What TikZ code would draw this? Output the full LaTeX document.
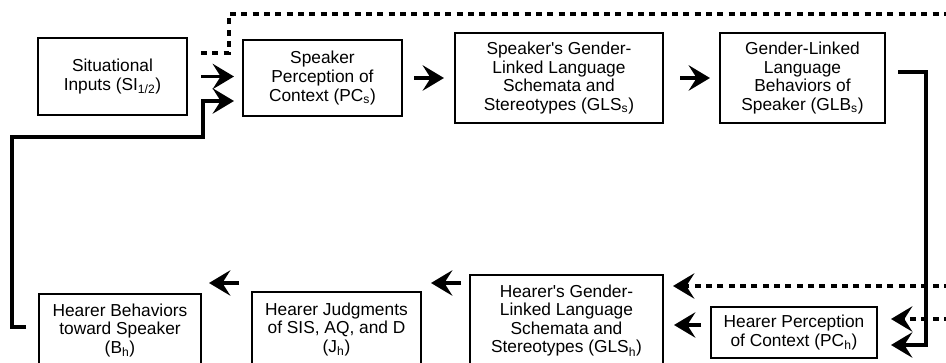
\documentclass[tikz,border=0pt]{standalone}
\usepackage{fontspec}
\setmainfont{Liberation Sans}[Ligatures=TeXOff]
\usetikzlibrary{arrows.meta,calc}
\newcommand{\sbs}[1]{\textsubscript{#1}}
\begin{document}
\begin{tikzpicture}[x=0.75pt,y=-0.75pt,
  box/.style={draw,line width=1.5pt,align=center,inner sep=0pt,
    font=\fontsize{13}{13.9}\selectfont},
  sz/.style 2 args={minimum width=#1*0.75pt,minimum height=#2*0.75pt},
  arr/.style={line width=2.6pt,-{Stealth[length=16pt,width=19pt,inset=6pt]}},
  dot/.style={line width=2.6pt,dash pattern=on 4.5pt off 4pt}]
\useasboundingbox (0,0) rectangle (946,363);
% top row
\node[box,sz={149}{77}] (si) at (112.5,76.5) {Situational\\Inputs (SI\sbs{1/2})};
\node[box,sz={159}{76}] (pcs) at (322.5,78) {Speaker\\Perception of\\Context (PC\sbs{s})};
\node[box,sz={208}{90}] (glss) at (559,78) {Speaker's Gender-\\Linked Language\\Schemata and\\Stereotypes (GLS\sbs{s})};
\node[box,sz={165}{90}] (glbs) at (802.5,78) {Gender-Linked\\Language\\Behaviors of\\Speaker (GLB\sbs{s})};
% bottom row
\node[box,sz={166}{51}] (pch) at (794,332.5) {Hearer Perception\\of Context (PC\sbs{h})};
\node[box,sz={193}{91}] (glsh) at (566.5,320.5) {Hearer's Gender-\\Linked Language\\Schemata and\\Stereotypes (GLS\sbs{h})};
\node[box,sz={169}{75}] (jh) at (336.5,329.5) {Hearer Judgments\\of SIS, AQ, and D\\(J\sbs{h})};
\node[box,sz={162}{73}] (bh) at (120,330.5) {Hearer Behaviors\\toward Speaker\\(B\sbs{h})};
% free ends at the right margin
\coordinate (tr) at (950,14);
\coordinate (br1) at (950,286);
\coordinate (br2) at (950,319);
% top arrows
\draw[arr] ($(si.east)+(13,0)$) -- ($(si.east -| pcs.west)+(-8,0)$);
\draw[arr] ($(pcs.east)+(11,0)$) -- ($(pcs.east -| glss.west)+(-10,0)$);
\draw[arr] ($(glss.east)+(16,0)$) -- ($(glss.east -| glbs.west)+(-9,0)$);
% dotted top line
\draw[dot] ($(si.east)+(13,-23.5)$) -- ++(28,0) |- (tr);
% right connector down to hearer perception
\draw[arr] ($(glbs.east)+(12,-6)$) -| ($(pch.east)+(48,12.5)$) -- ($(pch.east)+(13,12.5)$);
% dotted bottom arrows
\draw[dot,arr] (br1) -- ($(glsh.east |- br1)+(9,0)$);
\draw[dot,arr] (br2) -- ($(pch.east |- br2)+(13,0)$);
% bottom arrows
\draw[arr] ($(pch.west)+(-9,-7.5)$) -- ($(pch.west -| glsh.east)+(10,-7.5)$);
\draw[arr] ($(glsh.west)+(-8,-37.5)$) -- ($(glsh.west -| jh.east)+(9,-37.5)$);
\draw[arr] ($(jh.west)+(-12,-46.5)$) -- ($(jh.west -| bh.east)+(7,-46.5)$);
% feedback loop
\draw[arr] ($(bh.west)+(-12,-3.5)$) -- ++(-14,0) |- ($(si.east)+(15,60.5)$) |- ($(pcs.west)+(-8,23)$);
\end{tikzpicture}
\end{document}
